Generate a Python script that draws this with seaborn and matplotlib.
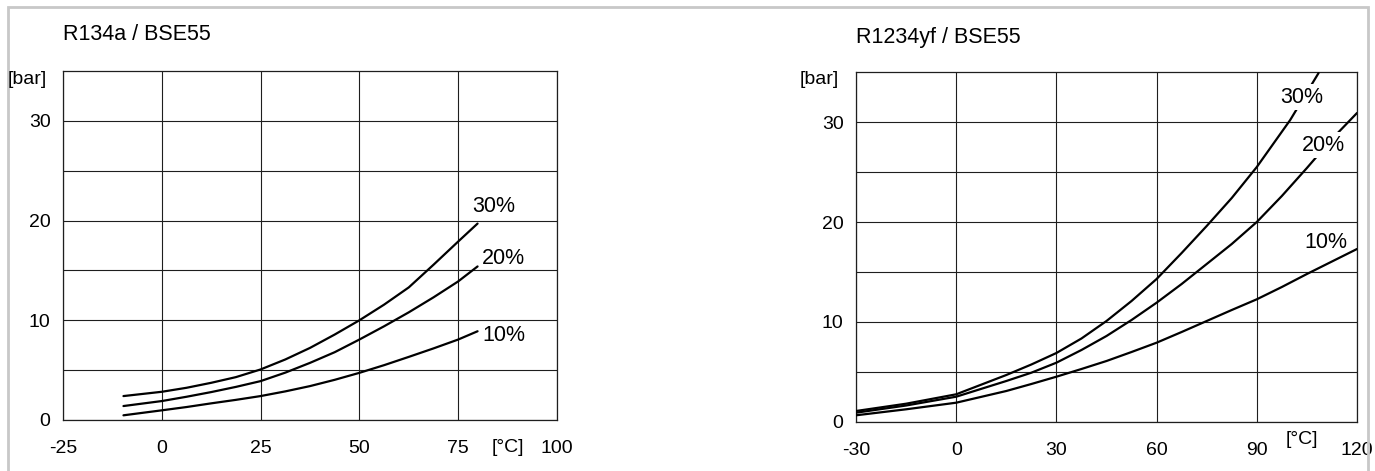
import pandas as pd
import seaborn as sns
import matplotlib
matplotlib.use("Agg")
import matplotlib.pyplot as plt
from matplotlib.patches import Rectangle

# R134a / BSE55
r134a_temp = [-9.7, 0, 6.25, 12.5, 18.75, 25, 31.25, 37.5, 43.75, 50, 56.25, 62.5, 68.75, 75, 79.9]
r134a_10 = [0.47, 0.97, 1.3, 1.67, 2.02, 2.4, 2.87, 3.4, 4.03, 4.73, 5.5, 6.33, 7.18, 8.07, 8.9]
r134a_20 = [1.4, 1.9, 2.33, 2.8, 3.32, 3.9, 4.75, 5.73, 6.8, 8.07, 9.4, 10.8, 12.3, 13.9, 15.4]
r134a_30 = [2.4, 2.83, 3.23, 3.73, 4.3, 5.07, 6.07, 7.23, 8.57, 10.0, 11.57, 13.3, 15.57, 17.9, 19.7]

# R1234yf / BSE55
yf_temp = [-30, -15, 0, 15, 22.5, 30, 37.5, 45, 52.5, 60, 67.5, 75, 82.5, 90, 97.5, 105, 112.5, 120]
yf_10 = [0.67, 1.27, 1.93, 3.1, 3.8, 4.53, 5.3, 6.1, 7.0, 7.93, 9.0, 10.1, 11.2, 12.27, 13.5, 14.8, 16.05, 17.3]
yf_20 = [0.93, 1.65, 2.53, 4.1, 4.93, 5.93, 7.2, 8.6, 10.2, 11.93, 13.8, 15.8, 17.8, 20.0, 22.6, 25.4, 28.3, 30.9]
yf_30_temp = [-30, -15, 0, 15, 22.5, 30, 37.5, 45, 52.5, 60, 67.5, 75, 82.5, 90, 100, 108.5]
yf_30 = [1.1, 1.83, 2.77, 4.7, 5.75, 6.9, 8.35, 10.1, 12.1, 14.3, 16.9, 19.6, 22.4, 25.5, 30.2, 34.9]

left_xticks = [-25, 0, 25, 50, 75, 100]
right_xticks = [-30, 0, 30, 60, 90, 120]
yticks = [0, 10, 20, 30]

labels = ["10%", "20%", "30%"]


def long_df(temps, series):
    frames = []
    for lab, t, p in zip(labels, temps, series):
        frames.append(pd.DataFrame({"temp": t, "bar": p, "conc": lab}))
    return pd.concat(frames, ignore_index=True)


df_left = long_df([r134a_temp] * 3, [r134a_10, r134a_20, r134a_30])
df_right = long_df([yf_temp, yf_temp, yf_30_temp], [yf_10, yf_20, yf_30])

sns.set_style("white")
plt.rcParams["font.family"] = ["Liberation Sans", "DejaVu Sans"]
plt.rcParams["axes.unicode_minus"] = False
plt.rcParams["text.color"] = "black"
plt.rcParams["xtick.color"] = "black"
plt.rcParams["ytick.color"] = "black"

W, H = 1375, 471
fig = plt.figure(figsize=(W / 100, H / 100), dpi=100)


def px_rect(l, t, r, b):
    return [l / W, 1 - b / H, (r - l) / W, (b - t) / H]


ax1 = fig.add_axes(px_rect(63, 71, 557, 420))
ax2 = fig.add_axes(px_rect(856, 72, 1357, 422))

grid_c = "#1e1e1e"
pal = {lab: "black" for lab in labels}
tick_fs = 14
lab_fs = 15.5

for ax, df, xt in [(ax1, df_left, left_xticks), (ax2, df_right, right_xticks)]:
    sns.lineplot(data=df, x="temp", y="bar", hue="conc", palette=pal,
                 linewidth=1.6, legend=False, ax=ax, sort=False, zorder=3)
    ax.set_xlim(xt[0], xt[-1])
    ax.set_ylim(0, 35)
    ax.set_xticks(xt)
    ax.set_yticks(yticks)
    ax.set_yticks(range(0, 35, 5), minor=True)
    ax.grid(True, which="both", color=grid_c, linewidth=0.8)
    ax.set_axisbelow(True)
    for s in ax.spines.values():
        s.set_color(grid_c)
        s.set_linewidth(0.9)
    ax.tick_params(axis="both", which="both", length=0, labelsize=tick_fs,
                   labelcolor="black")
    ax.tick_params(axis="x", pad=14.5)
    ax.tick_params(axis="y", pad=9)
    ax.set_xlabel("")
    ax.set_ylabel("")

# unit of the x axis, between the last two ticks
ax1.text(87.5, -2.8, "[°C]", ha="center", va="center", fontsize=tick_fs,
         clip_on=False)
ax2.text(103.5, -1.7, "[°C]", ha="center", va="center", fontsize=tick_fs,
         clip_on=False)

# curve labels
ax1.text(78.5, 21.4, "30%", fontsize=lab_fs, ha="left", va="center")
ax1.text(81, 16.2, "20%", fontsize=lab_fs, ha="left", va="center")
ax1.text(81, 8.5, "10%", fontsize=lab_fs, ha="left", va="center")

box = dict(facecolor="white", edgecolor="none", pad=1.5)
ax2.text(103.5, 32.5, "30%", fontsize=lab_fs, ha="center", va="center", bbox=box, zorder=5)
ax2.text(110, 27.7, "20%", fontsize=lab_fs, ha="center", va="center", bbox=box, zorder=5)
ax2.text(110.7, 18.0, "10%", fontsize=lab_fs, ha="center", va="center", zorder=5)

# titles and unit labels
fig.text(63 / W, 1 - 35 / H, "R134a / BSE55", fontsize=lab_fs, ha="left", va="center")
fig.text(856 / W, 1 - 37 / H, "R1234yf / BSE55", fontsize=lab_fs, ha="left", va="center")
fig.text(47 / W, 1 - 80 / H, "[bar]", fontsize=tick_fs, ha="right", va="center")
fig.text(839 / W, 1 - 80 / H, "[bar]", fontsize=tick_fs, ha="right", va="center")

# light grey frame round the whole picture
frame = Rectangle((8 / W, -0.05), (1368 - 8) / W, 1.05 - 7 / H,
                  transform=fig.transFigure, fill=False,
                  edgecolor="#c8c8c8", linewidth=2)
fig.patches.append(frame)

fig.savefig("out.png", dpi=100)
